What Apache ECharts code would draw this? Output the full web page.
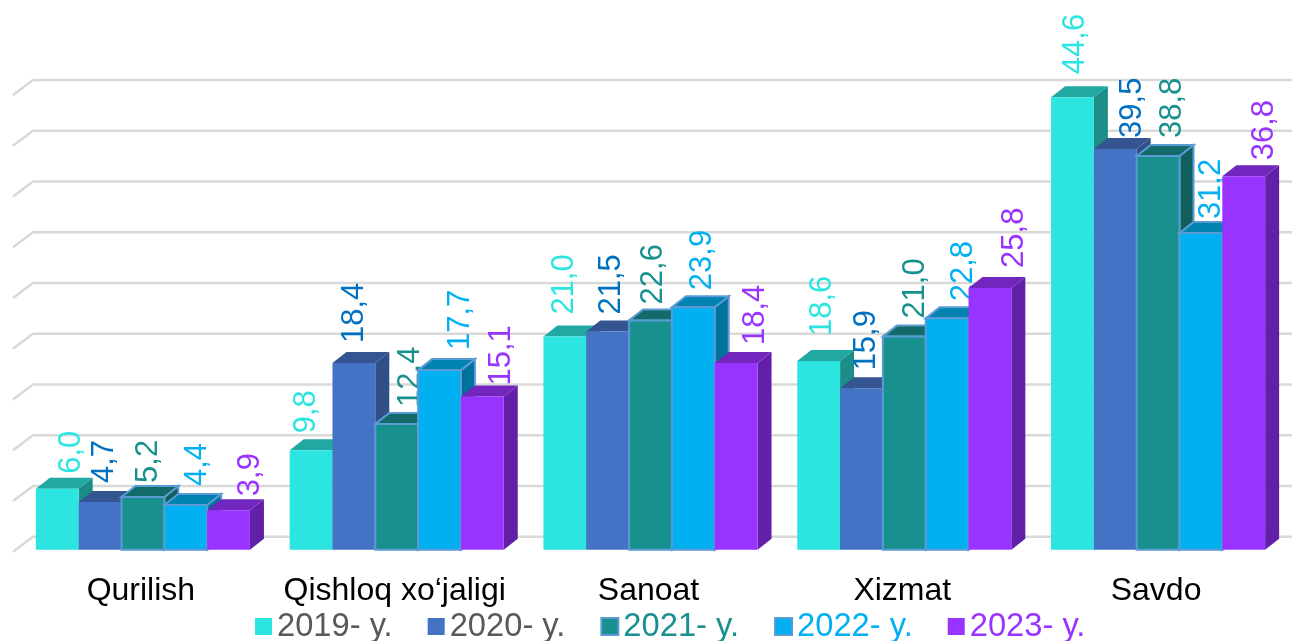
<!DOCTYPE html>
<html>
<head>
<meta charset="utf-8">
<style>
	html, body { margin: 0; padding: 0; background: #fff; }
	#chart { width: 1292px; height: 641px; }
</style>
<script src="https://cdn.jsdelivr.net/npm/echarts@6/dist/echarts.min.js"></script>
</head>
<body>
<div id="chart"></div>
<script type="text/javascript">
	var categories = ['Qurilish', 'Qishloq xo‘jaligi', 'Sanoat', 'Xizmat', 'Savdo'];
	var years = ['2019- y.', '2020- y.', '2021- y.', '2022- y.', '2023- y.'];
	var values2019 = [6.0, 9.8, 21.0, 18.6, 44.6];
	var values2020 = [4.7, 18.4, 21.5, 15.9, 39.5];
	var values2021 = [5.2, 12.4, 22.6, 21.0, 38.8];
	var values2022 = [4.4, 17.7, 23.9, 22.8, 31.2];
	var values2023 = [3.9, 15.1, 18.4, 25.8, 36.8];
	var yTicks = [0, 5, 10, 15, 20, 25, 30, 35, 40, 45];

	// hand placed labels in the original: shift from the bar centre and gap above the bar
	var labelDx = [
		[12, -7, -2, 2, 1],
		[2, -1, 2, 3, 15],
		[4, 12, 1, 9, 12],
		[10, 19, 7, 14, 9],
		[20, 17, 17, 23, 19]
	];
	var labelGap = [
		[15, 17, 22, 25, 23],
		[19, 20, 17, 18, 11],
		[14, 17, 16, 18, 18],
		[19, 20, 17, 17, 14],
		[14, 11, 18, 20, 16]
	];

	var seriesValues = [values2019, values2020, values2021, values2022, values2023];
	var front = ['#2CE5E0', '#4472C4', '#17908E', '#00B0F0', '#9933FF'];
	var top3d = ['#22A8A2', '#355592', '#136B69', '#0083B0', '#7226BE'];
	var side3d = ['#1D8D88', '#2F4F88', '#115F5D', '#00729E', '#6220A8'];
	var edge = [null, null, '#5B9BD5', '#5B9BD5', null];
	var labelColor = ['#2CE5E0', '#0070C0', '#17908E', '#00B0F0', '#9933FF'];
	var legendColor = ['#595959', '#595959', '#17908E', '#00B0F0', '#9933FF'];
	var fontName = '"Liberation Sans", Arial, sans-serif';

	var depthX = 14, depthY = -11;
	var groupShare = 214 / 253.7;

	function renderBar(s) {
		return function (params, api) {
			var cat = api.value(0), val = api.value(1);
			var band = api.size([1, 0])[0];
			var w = band * groupShare / 5;
			var centre = api.coord([cat, 0])[0];
			var base = api.coord([cat, 0])[1];
			var topY = api.coord([cat, val])[1];
			var x0 = centre - band * groupShare / 2 + w * s;
			var x1 = x0 + w;
			var stroke = edge[s] ? { stroke: edge[s], lineWidth: 2 } : { stroke: null };
			return {
				type: 'group',
				children: [
					{
						type: 'polygon',
						shape: { points: [[x1, topY], [x1 + depthX, topY + depthY], [x1 + depthX, base + depthY], [x1, base]] },
						style: Object.assign({ fill: side3d[s] }, stroke)
					},
					{
						type: 'polygon',
						shape: { points: [[x0, topY], [x0 + depthX, topY + depthY], [x1 + depthX, topY + depthY], [x1, topY]] },
						style: Object.assign({ fill: top3d[s] }, stroke)
					},
					{
						type: 'rect',
						shape: { x: x0, y: topY, width: w, height: base - topY },
						style: Object.assign({ fill: front[s] }, stroke)
					},
					{
						// later bars cover this text, as in the original
						type: 'text',
						x: x0 + w / 2 + labelDx[s][cat] + 2,
						y: topY - labelGap[s][cat],
						rotation: Math.PI / 2,
						style: {
							text: val.toFixed(1).replace('.', ','),
							fill: labelColor[s],
							font: '31px ' + fontName,
							align: 'left',
							verticalAlign: 'middle'
						}
					}
				]
			};
		};
	}

	function renderWall(params, api) {
		var y = api.coord([0, api.value(1)])[1];
		var left = params.coordSys.x;
		var right = left + params.coordSys.width;
		return {
			type: 'polyline',
			shape: { points: [[left - 3, y + 2], [left + 17, y - 13], [right + 7, y - 13]] },
			style: { stroke: '#D9D9D9', lineWidth: 2.5, fill: null }
		};
	}

	var series = [{
		name: 'wall',
		type: 'custom',
		silent: true,
		z: 1,
		renderItem: renderWall,
		data: yTicks.map(function (v) { return [0, v]; })
	}];
	seriesValues.forEach(function (vals, s) {
		series.push({
			name: years[s],
			type: 'custom',
			z: 2,
			renderItem: renderBar(s),
			itemStyle: edge[s] ? { color: front[s], borderColor: edge[s], borderWidth: 2 } : { color: front[s] },
			data: vals.map(function (v, i) { return [i, v]; })
		});
	});

	var option = {
		animation: false,
		backgroundColor: '#fff',
		grid: { left: 16, right: 7, top: 93.1, height: 456.6 },
		legend: {
			left: 255,
			top: 610,
			padding: 0,
			icon: 'rect',
			itemWidth: 17,
			itemHeight: 17,
			itemGap: 35,
			textStyle: { fontFamily: fontName, fontSize: 32.7 },
			data: years.map(function (y, i) {
				return { name: y, textStyle: { color: legendColor[i] } };
			})
		},
		xAxis: {
			type: 'category',
			data: categories,
			axisLine: { show: false },
			axisTick: { show: false },
			axisLabel: { interval: 0, color: '#000', fontFamily: fontName, fontSize: 32, margin: 25, padding: [0, 4, 0, 0] }
		},
		yAxis: {
			type: 'value',
			min: 0,
			max: 45,
			interval: 5,
			show: false
		},
		series: series
	};

	var chart = echarts.init(document.getElementById('chart'), null, { renderer: 'canvas' });
	chart.setOption(option);
</script>
</body>
</html>
